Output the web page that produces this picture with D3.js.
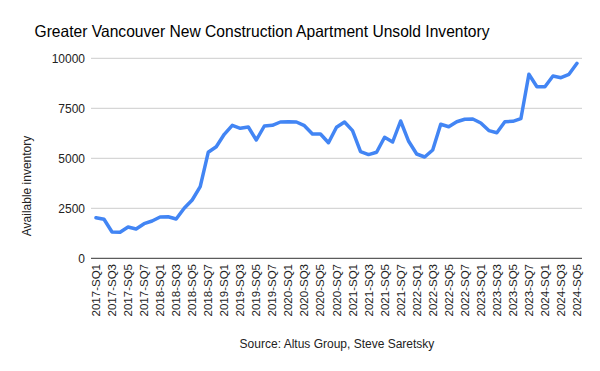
<!DOCTYPE html>
<html><head><meta charset="utf-8">
<script src="https://cdn.jsdelivr.net/npm/d3@7"></script>
<style>body{margin:0;background:#fff}svg{display:block}text{font-family:"Liberation Sans",Arial,sans-serif}</style>
</head><body><div id="chart"></div>
<script>
const years = [2017,2018,2019,2020,2021,2022,2023,2024];
const categories = [];
years.forEach(y => { for (let q = 1; q <= 8; q++) { if (y === 2024 && q > 5) break; categories.push(y + "-SQ" + q); } });
const values = [2030,1950,1315,1300,1565,1465,1730,1865,2065,2080,1965,2500,2915,3580,5300,5580,
  6200,6650,6500,6565,5915,6615,6650,6815,6830,6815,6630,6215,6215,5780,6550,6815,
  6385,5335,5185,5300,6050,5815,6865,5850,5215,5065,5415,6700,6580,6830,6950,6965,
  6765,6385,6280,6830,6850,6980,9200,8580,8580,9115,9030,9200,9750];
const yTicks = [0,2500,5000,7500,10000];
const title = "Greater Vancouver New Construction Apartment Unsold Inventory";
const yTitle = "Available inventory";
const source = "Source: Altus Group, Steve Saretsky";

const W = 600, H = 371;
const svg = d3.select("#chart").append("svg").attr("width", W).attr("height", H);
const x = d3.scalePoint().domain(categories).range([96, 577]);
const y = d3.scaleLinear().domain([0, 10000]).range([258.3, 58.3]);

// gridlines
svg.append("g").selectAll("line").data(yTicks.filter(d => d > 0)).join("line")
  .attr("x1", 91).attr("x2", 582).attr("y1", d => y(d)).attr("y2", d => y(d))
  .attr("stroke", "#cccccc").attr("stroke-width", 1);

// y tick labels
svg.append("g").selectAll("text").data(yTicks).join("text")
  .attr("x", 85).attr("y", d => y(d)).attr("dy", "0.35em")
  .attr("text-anchor", "end").attr("font-size", 12).attr("fill", "#222")
  .text(d => d);

// baseline
svg.append("line").attr("x1", 91).attr("x2", 582).attr("y1", y(0)).attr("y2", y(0))
  .attr("stroke", "#333").attr("stroke-width", 1);

// x labels
svg.append("g").selectAll("text").data(categories.filter((d, i) => i % 2 === 0)).join("text")
  .attr("transform", d => `translate(${x(d)},264) rotate(-90)`)
  .attr("dy", "0.35em").attr("text-anchor", "end").attr("font-size", 11.5).attr("fill", "#222")
  .text(d => d);

// line
const line = d3.line().x((d, i) => x(categories[i])).y(d => y(d));
svg.append("path").datum(values).attr("d", line)
  .attr("fill", "none").attr("stroke", "#4285F4").attr("stroke-width", 3.5)
  .attr("stroke-linejoin", "round").attr("stroke-linecap", "round");

// titles
svg.append("text").attr("x", 262).attr("y", 37).attr("text-anchor", "middle")
  .attr("font-size", 16.5).attr("textLength", 455).attr("lengthAdjust", "spacingAndGlyphs")
  .attr("fill", "#000").text(title);
svg.append("text").attr("transform", "translate(31,186) rotate(-90)")
  .attr("text-anchor", "middle").attr("font-size", 12).attr("fill", "#222").text(yTitle);
svg.append("text").attr("x", 337).attr("y", 348).attr("text-anchor", "middle")
  .attr("font-size", 12).attr("fill", "#222").text(source);
</script></body></html>
